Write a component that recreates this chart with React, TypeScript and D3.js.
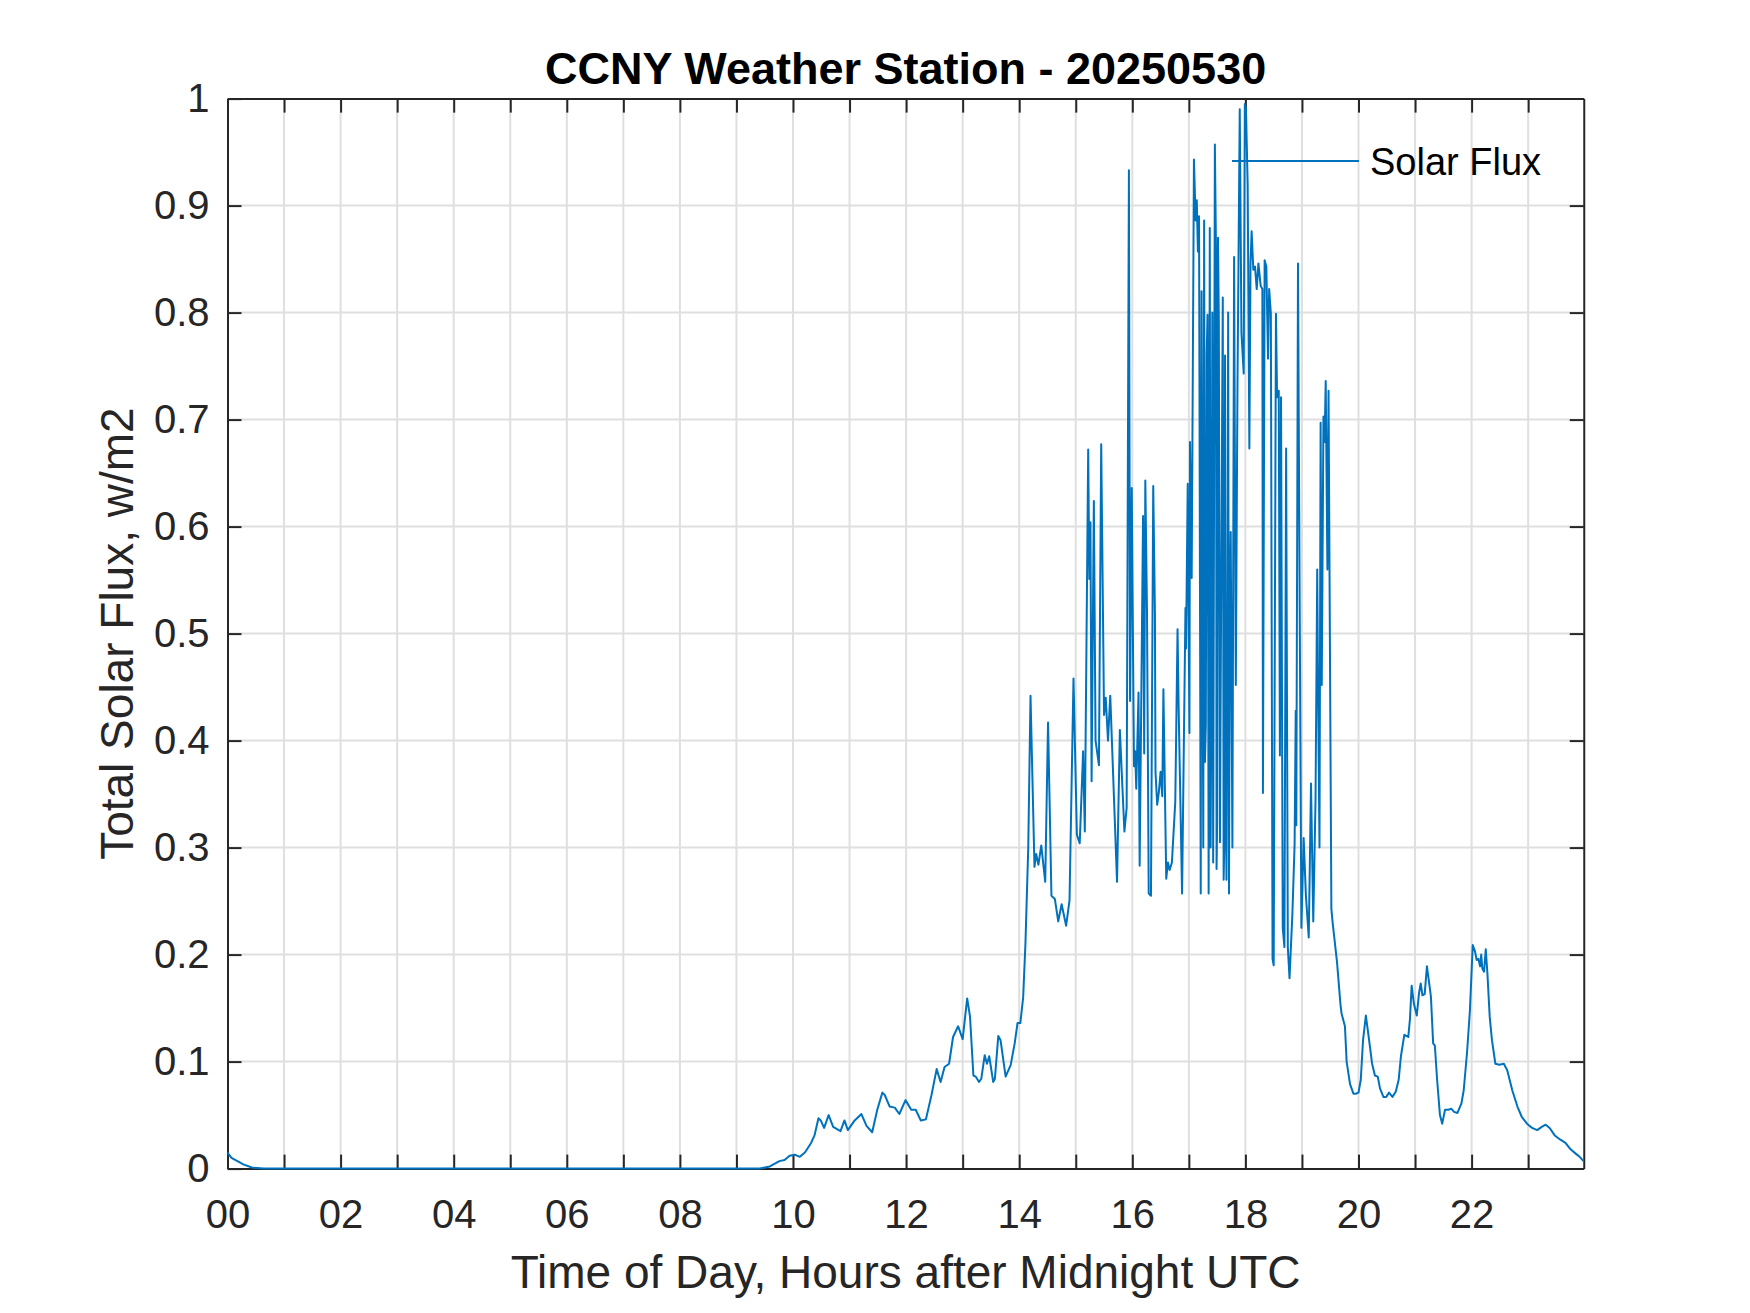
import React, { useRef, useEffect } from 'react';
import * as d3 from 'd3';

// hours after midnight UTC
const hours: number[] = [
    0.00, 0.07, 0.16, 0.28, 0.43, 0.64, 9.41, 9.59, 9.76, 9.85, 9.94,
    10.03, 10.12, 10.21, 10.32, 10.38, 10.45, 10.49, 10.55, 10.63, 10.71, 10.84, 10.91, 10.97,
    11.09, 11.21, 11.30, 11.40, 11.49, 11.58, 11.62, 11.71, 11.80, 11.88, 11.99,
    12.09, 12.17, 12.26, 12.35, 12.45, 12.54, 12.61, 12.68, 12.76, 12.83, 12.92,
    13.00, 13.08, 13.13, 13.19, 13.23, 13.29, 13.33, 13.39, 13.43, 13.47, 13.54, 13.57, 13.63, 13.67, 13.76, 13.85, 13.92, 13.97,
    14.02, 14.07, 14.11, 14.16, 14.20, 14.27, 14.30, 14.34, 14.39, 14.46, 14.51, 14.57, 14.63, 14.69, 14.75, 14.83, 14.89, 14.96,
    15.02, 15.07, 15.13, 15.16, 15.22, 15.24, 15.26, 15.28, 15.32, 15.35, 15.41, 15.45, 15.50, 15.53, 15.57, 15.61, 15.73, 15.78,
    15.86, 15.90, 15.94, 15.96, 15.99,
    16.02, 16.03, 16.05, 16.07, 16.11, 16.13, 16.19, 16.21, 16.23, 16.26, 16.29, 16.33, 16.37, 16.40, 16.41, 16.44, 16.47, 16.50,
    16.53, 16.55, 16.60, 16.63, 16.66, 16.70, 16.76, 16.80, 16.82, 16.88, 16.94, 16.95, 16.98,
    17.01, 17.02, 17.05, 17.09, 17.12, 17.14, 17.16, 17.18, 17.21, 17.225, 17.24, 17.255, 17.27, 17.285, 17.30, 17.315, 17.33,
    17.35, 17.37, 17.385, 17.40, 17.415, 17.43, 17.46, 17.48, 17.49, 17.50, 17.515, 17.53, 17.55, 17.57, 17.60, 17.615, 17.63,
    17.64, 17.65, 17.665, 17.68, 17.695, 17.71, 17.725, 17.74, 17.77, 17.80, 17.83, 17.86, 17.90, 17.93, 17.97, 17.99,
    18.01, 18.04, 18.07, 18.09, 18.11, 18.14, 18.17, 18.20, 18.23, 18.27, 18.30, 18.31, 18.34, 18.37, 18.40, 18.42, 18.45, 18.48,
    18.50, 18.54, 18.56, 18.59, 18.61, 18.63, 18.66, 18.69, 18.72, 18.75, 18.78, 18.83, 18.87, 18.89, 18.90, 18.93, 18.96, 18.99,
    19.03, 19.07, 19.12, 19.16, 19.20, 19.24, 19.27, 19.28, 19.31, 19.33, 19.35, 19.38, 19.40, 19.42, 19.45, 19.47, 19.52, 19.54,
    19.62, 19.68, 19.70, 19.76, 19.79, 19.85, 19.91, 19.95,
    20.00, 20.04, 20.08, 20.13, 20.18, 20.24, 20.29, 20.34, 20.38, 20.44, 20.49, 20.54, 20.60, 20.66, 20.71, 20.75, 20.81, 20.88,
    20.91, 20.94, 20.98, 21.03, 21.07, 21.10, 21.13, 21.17, 21.21, 21.25, 21.28, 21.32, 21.35, 21.39, 21.44, 21.48, 21.53, 21.59,
    21.64, 21.69, 21.75, 21.82, 21.86, 21.92, 21.97, 22.02, 22.06, 22.09, 22.12, 22.15, 22.17, 22.19, 22.22, 22.25, 22.28, 22.32,
    22.36, 22.42, 22.49, 22.57, 22.63, 22.72, 22.81, 22.89, 22.98, 23.07, 23.16, 23.24, 23.31, 23.38, 23.47, 23.57, 23.66, 23.75,
    23.84, 23.91, 23.98,
];

// total solar flux, same order as hours
const flux: number[] = [
    0.015, 0.010, 0.0075, 0.004, 0.001, 0, 0, 0.002, 0.007, 0.008, 0.012,
    0.013, 0.011, 0.015, 0.024, 0.031, 0.047, 0.045, 0.038, 0.050, 0.039, 0.035, 0.045, 0.036,
    0.045, 0.051, 0.040, 0.034, 0.055, 0.071, 0.069, 0.058, 0.057, 0.051, 0.064,
    0.055, 0.055, 0.045, 0.046, 0.069, 0.093, 0.081, 0.095, 0.098, 0.123, 0.133,
    0.121, 0.159, 0.142, 0.087, 0.086, 0.081, 0.084, 0.106, 0.098, 0.105, 0.081, 0.084, 0.124, 0.120, 0.086, 0.097, 0.117, 0.136,
    0.136, 0.160, 0.210, 0.300, 0.442, 0.282, 0.294, 0.284, 0.302, 0.268, 0.417, 0.255, 0.252, 0.231, 0.247, 0.227, 0.251, 0.458,
    0.312, 0.304, 0.390, 0.315, 0.672, 0.551, 0.604, 0.362, 0.624, 0.400, 0.377, 0.677, 0.424, 0.440, 0.400, 0.442, 0.268, 0.410,
    0.315, 0.337, 0.933, 0.437, 0.636,
    0.438, 0.376, 0.390, 0.355, 0.445, 0.283, 0.610, 0.388, 0.643, 0.519, 0.257, 0.255, 0.638, 0.519, 0.371, 0.340, 0.352, 0.371,
    0.348, 0.448, 0.271, 0.286, 0.279, 0.286, 0.343, 0.504, 0.429, 0.257, 0.524, 0.486, 0.640,
    0.407, 0.679, 0.552, 0.943, 0.886, 0.905, 0.857, 0.890, 0.257, 0.820, 0.548, 0.300, 0.886, 0.380, 0.414, 0.760, 0.798,
    0.257, 0.879, 0.300, 0.476, 0.800, 0.286, 0.957, 0.857, 0.280, 0.324, 0.870, 0.790, 0.305, 0.524, 0.814, 0.270, 0.310,
    0.760, 0.405, 0.270, 0.476, 0.800, 0.257, 0.520, 0.595, 0.300, 0.852, 0.452, 0.733, 0.990, 0.781, 0.743, 0.995,
    0.990, 0.920, 0.673, 0.846, 0.876, 0.840, 0.843, 0.822, 0.846, 0.825, 0.822, 0.351, 0.849, 0.843, 0.757, 0.822, 0.799, 0.196,
    0.190, 0.799, 0.721, 0.727, 0.386, 0.721, 0.225, 0.207, 0.673, 0.207, 0.178, 0.237, 0.303, 0.428, 0.321, 0.846, 0.524, 0.225,
    0.309, 0.255, 0.216, 0.360, 0.231, 0.345, 0.560, 0.482, 0.300, 0.697, 0.452, 0.703, 0.679, 0.736, 0.560, 0.727, 0.243, 0.231,
    0.193, 0.154, 0.145, 0.133, 0.100, 0.079, 0.070, 0.070,
    0.071, 0.083, 0.120, 0.143, 0.123, 0.098, 0.087, 0.086, 0.075, 0.067, 0.067, 0.071, 0.067, 0.072, 0.083, 0.105, 0.125, 0.123,
    0.140, 0.171, 0.154, 0.143, 0.164, 0.173, 0.162, 0.163, 0.189, 0.173, 0.161, 0.117, 0.115, 0.083, 0.050, 0.042, 0.055, 0.055,
    0.056, 0.053, 0.052, 0.061, 0.073, 0.109, 0.148, 0.209, 0.203, 0.195, 0.196, 0.189, 0.200, 0.187, 0.184, 0.205, 0.182, 0.142,
    0.120, 0.098, 0.097, 0.098, 0.092, 0.073, 0.058, 0.048, 0.042, 0.038, 0.036, 0.039, 0.041, 0.038, 0.031, 0.027, 0.024, 0.018,
    0.014, 0.011, 0.007,
];

const xTickHours = [0, 1, 2, 3, 4, 5, 6, 7, 8, 9, 10, 11, 12, 13, 14, 15, 16, 17, 18, 19, 20, 21, 22, 23];
const xTickLabels = ['00', '', '02', '', '04', '', '06', '', '08', '', '10', '', '12', '', '14', '', '16', '', '18', '', '20', '', '22', ''];
const yTickValues = [0, 0.1, 0.2, 0.3, 0.4, 0.5, 0.6, 0.7, 0.8, 0.9, 1];
const yTickLabels = ['0', '0.1', '0.2', '0.3', '0.4', '0.5', '0.6', '0.7', '0.8', '0.9', '1'];

const titleText = 'CCNY Weather Station - 20250530';
const xLabelText = 'Time of Day, Hours after Midnight UTC';
const yLabelText = 'Total Solar Flux, w/m2';
const seriesName = 'Solar Flux';

const FONT = '"Liberation Sans", Arial, Helvetica, sans-serif';

const SolarChart: React.FC = () => {
    const d3Container = useRef<SVGSVGElement | null>(null);

    useEffect(() => {
        if (!d3Container.current) return;
        document.body.style.margin = '0';

        const W = 1750;
        const H = 1313;
        const margin = { top: 98.6, right: 166.25, bottom: 144.4, left: 227.5 };
        const left = margin.left;
        const right = W - margin.right;
        const top = margin.top;
        const bottom = H - margin.bottom;
        const axisColor = '#262626';
        const tickLen = 14;

        const svg = d3.select(d3Container.current);
        svg.selectAll('*').remove();
        svg.attr('width', W).attr('height', H).style('display', 'block');

        svg.append('rect').attr('width', W).attr('height', H).attr('fill', '#ffffff');

        const x = d3.scaleLinear().domain([0, 23.983]).range([left, right]);
        const y = d3.scaleLinear().domain([0, 1]).range([bottom, top]);

        // grid lines
        const grid = svg.append('g').attr('stroke', '#dfdfdf').attr('stroke-width', 2);
        grid.selectAll('line.gx')
            .data(xTickHours.slice(1))
            .join('line')
            .attr('x1', (d) => x(d)).attr('x2', (d) => x(d))
            .attr('y1', top).attr('y2', bottom);
        grid.selectAll('line.gy')
            .data(yTickValues.slice(1, -1))
            .join('line')
            .attr('x1', left).attr('x2', right)
            .attr('y1', (d) => y(d)).attr('y2', (d) => y(d));

        const styleAxis = (g: d3.Selection<SVGGElement, unknown, null, undefined>) => {
            g.attr('font-family', FONT).attr('font-size', 40);
            g.select('.domain').attr('stroke', axisColor).attr('stroke-width', 2);
            g.selectAll('.tick line').attr('stroke', axisColor).attr('stroke-width', 2);
            g.selectAll('.tick text').attr('fill', axisColor);
        };

        // bottom axis with labels
        svg.append('g')
            .attr('transform', `translate(0,${bottom})`)
            .call(d3.axisBottom(x)
                .tickValues(xTickHours)
                .tickSize(-tickLen)
                .tickSizeOuter(0)
                .tickPadding(31)
                .tickFormat((_d, i) => xTickLabels[i]))
            .call(styleAxis);

        // top axis, ticks only
        svg.append('g')
            .attr('transform', `translate(0,${top})`)
            .call(d3.axisTop(x).tickValues(xTickHours.slice(1)).tickSize(-tickLen).tickSizeOuter(0).tickFormat(() => ''))
            .call(styleAxis);

        // left axis with labels
        svg.append('g')
            .attr('transform', `translate(${left},0)`)
            .call(d3.axisLeft(y)
                .tickValues(yTickValues)
                .tickSize(-tickLen)
                .tickSizeOuter(0)
                .tickPadding(18)
                .tickFormat((_d, i) => yTickLabels[i]))
            .call(styleAxis);

        // right axis, ticks only
        svg.append('g')
            .attr('transform', `translate(${right},0)`)
            .call(d3.axisRight(y).tickValues(yTickValues.slice(1, -1)).tickSize(-tickLen).tickSizeOuter(0).tickFormat(() => ''))
            .call(styleAxis);

        // data line
        const line = d3.line<number>()
            .x((_d, i) => x(hours[i]))
            .y((d) => y(d));
        svg.append('path')
            .datum(flux)
            .attr('fill', 'none')
            .attr('stroke', '#0072BD')
            .attr('stroke-width', 2)
            .attr('stroke-linejoin', 'round')
            .attr('d', line);

        // legend (no box)
        svg.append('line')
            .attr('x1', 1232).attr('x2', 1359)
            .attr('y1', 161).attr('y2', 161)
            .attr('stroke', '#0072BD').attr('stroke-width', 2);
        svg.append('text')
            .attr('x', 1370).attr('y', 175)
            .attr('font-family', FONT).attr('font-size', 38)
            .attr('fill', '#000000')
            .text(seriesName);

        // title
        svg.append('text')
            .attr('x', (left + right) / 2).attr('y', 84)
            .attr('text-anchor', 'middle')
            .attr('font-family', FONT).attr('font-size', 45).attr('font-weight', 'bold')
            .attr('fill', '#000000')
            .text(titleText);

        // axis labels
        svg.append('text')
            .attr('x', (left + right) / 2).attr('y', 1288)
            .attr('text-anchor', 'middle')
            .attr('font-family', FONT).attr('font-size', 46)
            .attr('fill', axisColor)
            .text(xLabelText);
        svg.append('text')
            .attr('transform', `translate(133,${(top + bottom) / 2}) rotate(-90)`)
            .attr('text-anchor', 'middle')
            .attr('font-family', FONT).attr('font-size', 46)
            .attr('fill', axisColor)
            .text(yLabelText);
    }, []);

    return <svg ref={d3Container} />;
};

export default function App() {
    return <SolarChart />;
}
